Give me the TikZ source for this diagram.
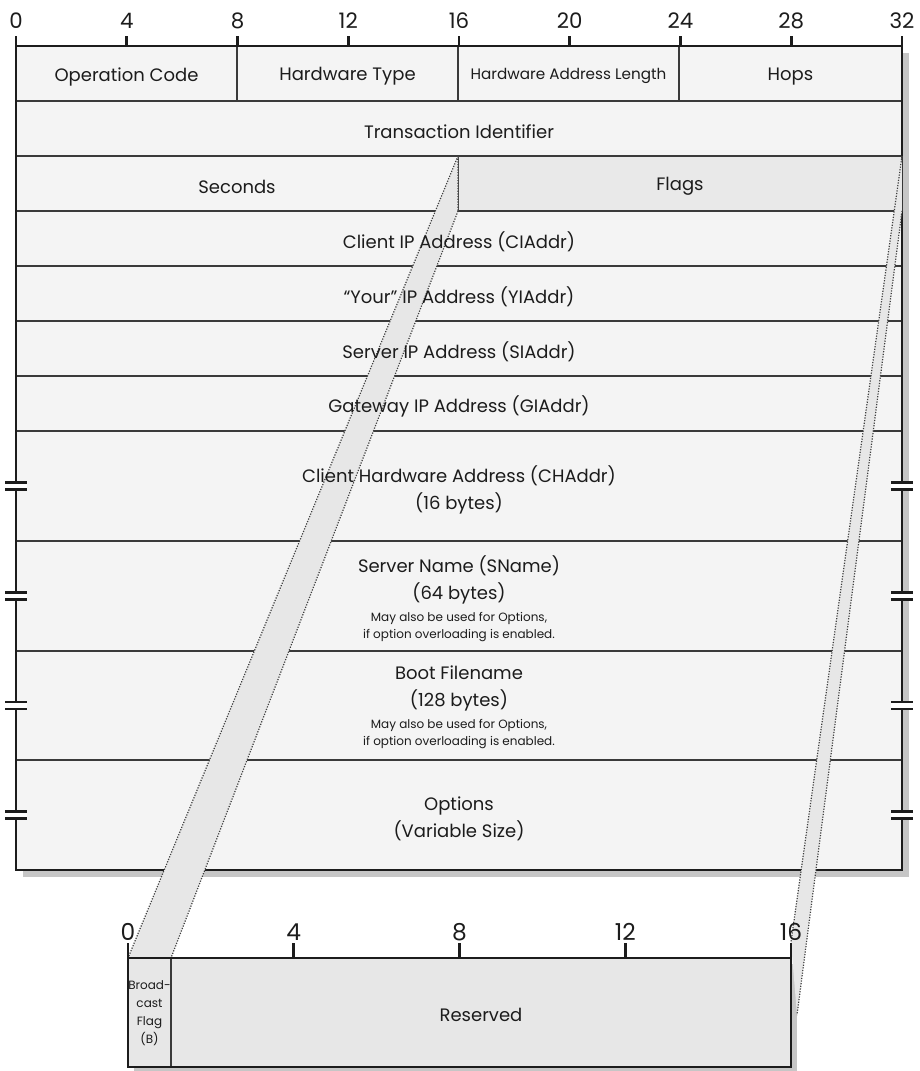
\documentclass[tikz,border=0pt]{standalone}
\usepackage{fontspec}
\setmainfont{Poppins}
\usetikzlibrary{calc}
\definecolor{ink}{HTML}{1C1C1C}
\definecolor{rule}{HTML}{3A3A3A}
\definecolor{cellfill}{HTML}{F4F4F4}
\definecolor{flagfill}{HTML}{E9E9E9}
\definecolor{bandfill}{HTML}{E7E7E7}
\definecolor{shade}{HTML}{C6C6C6}
\newcommand{\cellfont}{\fontsize{13.5}{20}\selectfont}
\newcommand{\notefont}{\fontsize{9}{12.75}\selectfont}
\newcommand{\midfont}{\fontsize{11.4}{14}\selectfont}
\newcommand{\rulerfont}{\fontsize{16}{18}\selectfont}
\newcommand{\bitfont}{\fontsize{17.5}{20}\selectfont}
\tikzset{
 every node/.append style={font=\cellfont,text=ink,align=center,inner sep=1pt},
 cell/.style={draw=rule,fill=cellfill,line width=1pt},
 frame/.style={draw=ink,line width=2pt},
 shadow/.style={fill=shade},
 tick/.style={draw=ink,line width=2pt},
 band/.style={fill=bandfill},
 edge/.style={draw=ink!85,line width=.9pt,dash pattern=on .9pt off 1.1pt},
 cut/.style={draw=ink,line width=1.7pt},
}

\begin{document}
\begin{tikzpicture}[x=.75pt,y=-.75pt]

\useasboundingbox (0,0) rectangle (920,1071);
% shadows
\fill[shadow] (23,53) rectangle (909,877);
\fill[shadow] (134,964) rectangle (797,1074);

% message table
\foreach \a/\b in {16/237,237/458,458/679,679/902}
  \draw[cell] (\a,46) rectangle (\b,101);
\draw[cell] (16,101) rectangle (902,156);
\draw[cell] (16,156) rectangle (458,211);
\draw[cell,fill=flagfill] (458,156) rectangle (902,211);
\foreach \a/\b in {211/266,266/321,321/376,376/431,431/541,541/651,651/760,760/870}
  \draw[cell] (16,\a) rectangle (902,\b);
\draw[frame] (16,46) rectangle (902,870);

% bit ruler
\foreach \i in {0,4,...,32} {
  \draw[tick] (16+\i*27.6875,36) -- ++(0,10);
  \node[font=\rulerfont] (top\i) at (16+\i*27.6875,21) {\i};
}

% breaks for the long fields
\foreach \m in {486,596,705.5,815} {
  \fill[white] (5,\m-3.5) rectangle (27,\m+3.5);
  \fill[white] (891,\m-3.5) rectangle (913,\m+3.5);
  \draw[cut] (5,\m-3.5) -- (27,\m-3.5) (5,\m+3.5) -- (27,\m+3.5);
  \draw[cut] (891,\m-3.5) -- (913,\m-3.5) (891,\m+3.5) -- (913,\m+3.5);
}

% zoom band from Flags to the detail
\coordinate (fNW) at (458,156);
\coordinate (fSW) at (458,211);
\coordinate (fNE) at (902,156);
\coordinate (fSE) at (902,211);
\coordinate (dB0) at (128,958);
\coordinate (dB1) at (171,958);
\coordinate (dR0) at (791,942);
\coordinate (dR1) at (797,1015);
\fill[band] (fNW) -- (dB0) -- (dB1) -- (fSW) -- cycle;
\fill[band] (fNE) -- (dR0) -- (dR1) -- (fSE) -- cycle;
\draw[edge] (fNW) -- (dB0) (fSW) -- (dB1) (fNW) -- (fSW);
\draw[edge] (fNE) -- (dR0) (fSE) -- (dR1);

% flags detail
\draw[cell,fill=bandfill] (128,958) rectangle (171,1067);
\draw[cell,fill=bandfill] (171,958) rectangle (791,1067);
\draw[frame] (128,958) rectangle (791,1067);
\foreach \i in {0,4,...,16} {
  \draw[tick] (128+\i*41.4375,943) -- ++(0,15);
  \node[font=\bitfont] (bit\i) at (128+\i*41.4375,932) {\i};
}

% field names
\node (opcode) at (126.5,76.5) {Operation Code};
\node (hwtype) at (347.5,76.5) {Hardware Type};
\node[font=\midfont] (hwlen) at (568.5,76) {Hardware Address Length};
\node (hops) at (790.5,76.5) {Hops};
\node (xid) at (459,131.5) {Transaction Identifier};
\node (secs) at (237,186.5) {Seconds};
\node (flags) at (680,186.5) {Flags};
\node (ciaddr) at (459,241.5) {Client IP Address (CIAddr)};
\node (yiaddr) at (459,296.5) {“Your” IP Address (YIAddr)};
\node (siaddr) at (459,351.5) {Server IP Address (SIAddr)};
\node (giaddr) at (459,406.5) {Gateway IP Address (GIAddr)};
\node (chaddr) at (459,490) {Client Hardware Address (CHAddr)\\(16 bytes)};
\node (sname) at (459,598.5) {Server Name (SName)\\(64 bytes)\\[-3.5pt]\notefont May also be used for Options,\\[-7.25pt]\notefont if option overloading is enabled.};
\node (file) at (459,707.5) {Boot Filename\\(128 bytes)\\[-3.5pt]\notefont May also be used for Options,\\[-7.25pt]\notefont if option overloading is enabled.};
\node (options) at (459,818.5) {Options\\(Variable Size)};
\node[font=\fontsize{9}{13.5}\selectfont] (bflag) at (149.5,1013) {Broad-\\cast\\Flag\\(B)};
\node (reserved) at (481,1015) {Reserved};

\end{tikzpicture}
\end{document}
